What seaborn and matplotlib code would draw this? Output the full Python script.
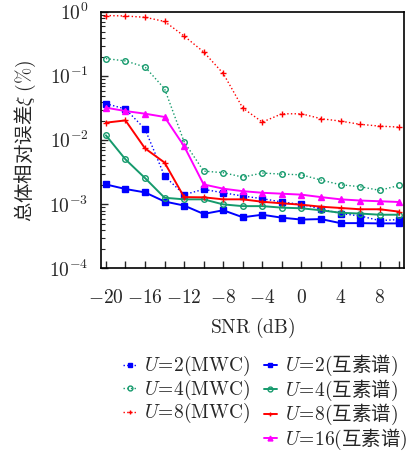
import numpy as np
import pandas as pd
import seaborn as sns
import matplotlib
matplotlib.use("Agg")
import matplotlib.pyplot as plt
from matplotlib.lines import Line2D
from matplotlib.ticker import MultipleLocator, LogLocator, NullFormatter, FuncFormatter

# SNR axis (dB)
snr = [-20, -18, -16, -14, -12, -10, -8, -6, -4, -2, 0, 2, 4, 6, 8, 10]

# MWC curves (dotted)
mwc_u2 = [0.0374, 0.0309, 0.0150, 0.00277, 0.00142, 0.00172, 0.00152, 0.00135,
          0.00123, 0.00109, 0.00100, 0.00085, 0.00072, 0.00066, 0.00056, 0.00058]
mwc_u4 = [0.189, 0.174, 0.140, 0.064, 0.0095, 0.00331, 0.00313, 0.00267,
          0.00309, 0.00297, 0.00290, 0.00240, 0.00203, 0.00189, 0.00166, 0.00198]
mwc_u8 = [0.89, 0.875, 0.835, 0.72, 0.426, 0.24, 0.111, 0.032,
          0.0193, 0.026, 0.026, 0.0218, 0.0200, 0.0178, 0.0167, 0.0161]

# coprime spectrum curves (solid)
cp_u2 = [0.00205, 0.00174, 0.00154, 0.00111, 0.00096, 0.00071, 0.00081, 0.00063,
         0.00069, 0.00062, 0.00058, 0.00059, 0.00051, 0.00051, 0.000505, 0.000505]
cp_u4 = [0.0120, 0.00505, 0.00258, 0.00127, 0.00120, 0.00120, 0.00100, 0.00094,
         0.00094, 0.00089, 0.00087, 0.00081, 0.00074, 0.00072, 0.00069, 0.00069]
cp_u8 = [0.0189, 0.0205, 0.0075, 0.0045, 0.00130, 0.00129, 0.00120, 0.00120,
         0.00110, 0.00104, 0.00099, 0.00092, 0.00088, 0.00084, 0.00084, 0.00077]
cp_u16 = [0.0324, 0.0287, 0.0261, 0.0232, 0.0081, 0.00205, 0.00176, 0.00161,
          0.00152, 0.00147, 0.00142, 0.00130, 0.00120, 0.00115, 0.00112, 0.00109]

BLUE = '#0000ff'
GREEN = '#159a6c'
RED = '#ff0000'
MAGENTA = '#ff00ff'

sns.set_theme(style='ticks')
# latin text goes through mathtext (computer modern), chinese through Noto
plt.rcParams['font.family'] = ['Noto Sans CJK SC', 'DejaVu Sans']
plt.rcParams['mathtext.fontset'] = 'cm'

fig = plt.figure(figsize=(4.14, 4.55), dpi=100)
ax = fig.add_axes([0.244, 0.41, 0.732, 0.563])

series = [
    # label, values, color, marker, linestyle, linewidth, facecolor
    (r'$U\!=\!2(\mathrm{MWC})$', mwc_u2, BLUE, 's', ':', 1.0, BLUE),
    (r'$U\!=\!4(\mathrm{MWC})$', mwc_u4, GREEN, 'o', ':', 1.0, 'none'),
    (r'$U\!=\!8(\mathrm{MWC})$', mwc_u8, RED, '+', ':', 1.0, RED),
    (r'$U\!=\!2($互素谱$)$', cp_u2, BLUE, 's', '-', 1.4, BLUE),
    (r'$U\!=\!4($互素谱$)$', cp_u4, GREEN, 'o', '-', 1.4, 'none'),
    (r'$U\!=\!8($互素谱$)$', cp_u8, RED, '+', '-', 1.4, RED),
    (r'$U\!=\!16($互素谱$)$', cp_u16, MAGENTA, '^', '-', 1.4, MAGENTA),
]

handles = []
labels = []
for lab, vals, col, mk, ls, lw, fc in series:
    df = pd.DataFrame({'snr': snr, 'err': vals})
    sns.lineplot(data=df, x='snr', y='err', ax=ax, color=col, linestyle=ls,
                 linewidth=lw, marker=mk, markersize=4, markerfacecolor=fc,
                 markeredgecolor=col, markeredgewidth=1.0)
    handles.append(Line2D([], [], color=col, linestyle=ls, linewidth=lw, marker=mk,
                          markersize=3.5, markerfacecolor=fc, markeredgecolor=col))
    labels.append(lab)

# blank slot so the 2-column legend lines up like the original
blank = Line2D([], [], linestyle='none', marker=None)
handles = handles[:3] + [blank] + handles[3:]
labels = labels[:3] + [''] + labels[3:]

ax.set_yscale('log')
ax.set_ylim(1e-4, 1)
ax.set_xlim(-20.5, 10.5)
ax.xaxis.set_major_locator(MultipleLocator(4))
ax.xaxis.set_minor_locator(MultipleLocator(2))
ax.xaxis.set_major_formatter(FuncFormatter(lambda v, p: r'$%d$' % round(v)))
ax.yaxis.set_major_locator(LogLocator(base=10, numticks=10))
ax.yaxis.set_minor_locator(LogLocator(base=10, subs=np.arange(2, 10), numticks=10))
ax.yaxis.set_major_formatter(FuncFormatter(lambda v, p: r'$10^{%d}$' % round(np.log10(v))))
ax.yaxis.set_minor_formatter(NullFormatter())
ax.tick_params(axis='both', which='both', direction='in', labelsize=14)
ax.tick_params(axis='both', which='major', length=5, width=1)
ax.tick_params(axis='y', which='minor', length=3, width=0.8)
ax.tick_params(axis='x', which='minor', length=5, width=1)
ax.tick_params(axis='x', which='major', pad=13)
ax.tick_params(axis='y', which='major', pad=9)
for sp in ax.spines.values():
    sp.set_visible(True)
    sp.set_linewidth(1.2)
    sp.set_color('black')

ax.set_xlabel(r'$\mathrm{SNR\ (dB)}$', fontsize=14, labelpad=6)
ax.set_ylabel(r'总体相对误差$\xi\ (\%)$', fontsize=14, labelpad=8)

fig.legend(handles, labels, ncol=2, loc='upper left',
           bbox_to_anchor=(0.273, 0.245), frameon=False, fontsize=14,
           handlelength=0.7, handletextpad=0.4, columnspacing=0.67,
           labelspacing=-0.03, borderpad=0)

fig.savefig('out.png', dpi=100)
